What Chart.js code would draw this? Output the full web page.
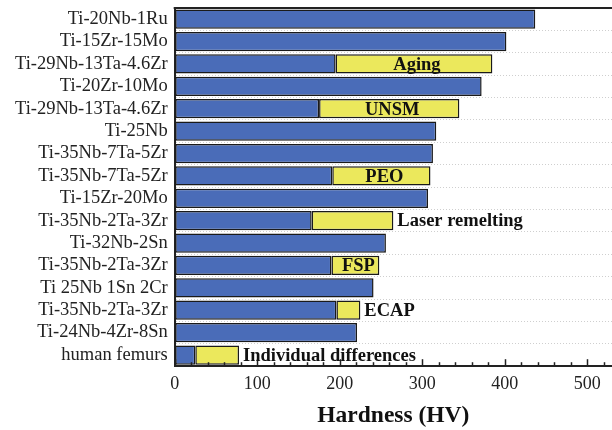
<!DOCTYPE html>
<html>
<head>
<meta charset="utf-8">
<script src="https://cdn.jsdelivr.net/npm/chart.js@4.4.1/dist/chart.umd.min.js"></script>
<style>
  html, body { margin: 0; padding: 0; background: #fff; }
  #wrap { width: 612px; height: 430px; }
</style>
</head>
<body>
<div id="wrap"><canvas id="myChart" width="612" height="430"></canvas></div>
<script>
// alloys, top to bottom
const alloys = [
    'Ti-20Nb-1Ru', 'Ti-15Zr-15Mo', 'Ti-29Nb-13Ta-4.6Zr', 'Ti-20Zr-10Mo',
    'Ti-29Nb-13Ta-4.6Zr', 'Ti-25Nb', 'Ti-35Nb-7Ta-5Zr', 'Ti-35Nb-7Ta-5Zr',
    'Ti-15Zr-20Mo', 'Ti-35Nb-2Ta-3Zr', 'Ti-32Nb-2Sn', 'Ti-35Nb-2Ta-3Zr',
    'Ti 25Nb 1Sn 2Cr', 'Ti-35Nb-2Ta-3Zr', 'Ti-24Nb-4Zr-8Sn', 'human femurs'
];
// base hardness (HV)
const baseHardness = [437, 402, 195, 372, 175, 317, 313, 191, 307, 166, 256, 190, 241, 196, 221, 25];
// hardness after treatment (null = no treatment)
const treatedHardness = [null, null, 385, null, 345, null, null, 310, null, 265, null, 248, null, 225, null, 78];
const treatments = ['', '', 'Aging', '', 'UNSM', '', '', 'PEO', '', 'Laser remelting', '', 'FSP', '', 'ECAP', '', 'Individual differences'];
const xTicks = [0, 100, 200, 300, 400, 500];

const serif = '"Liberation Serif", "Times New Roman", serif';

const frame = {
    id: 'frame',
    afterDraw(chart) {
        const ctx = chart.ctx;
        const a = chart.chartArea;
        const x = chart.scales.x;
        ctx.save();
        ctx.strokeStyle = '#222';
        ctx.lineWidth = 2;
        ctx.beginPath();
        ctx.moveTo(a.left - 1, a.top);
        ctx.lineTo(a.right, a.top);
        ctx.stroke();
        // inward ticks on x axis
        ctx.lineWidth = 1.5;
        for (let v = 0; v <= x.max; v += 20) {
            const px = Math.round(x.getPixelForValue(v)) + 0.5;
            const len = v % 100 === 0 ? 7 : 4;
            ctx.beginPath();
            ctx.moveTo(px, a.bottom);
            ctx.lineTo(px, a.bottom - len);
            ctx.stroke();
        }
        // treatment labels
        const y = chart.scales.y;
        ctx.font = 'bold 18.5px ' + serif;
        ctx.fillStyle = '#111';
        ctx.textBaseline = 'middle';
        treatments.forEach((t, i) => {
            if (!t) return;
            const x0 = x.getPixelForValue(baseHardness[i]);
            const x1 = x.getPixelForValue(treatedHardness[i]);
            const w = ctx.measureText(t).width;
            const py = y.getPixelForValue(i) + 1;
            if (w + 10 < x1 - x0) {
                ctx.textAlign = 'center';
                ctx.fillText(t, (x0 + x1) / 2 + 3, py);
            } else {
                ctx.textAlign = 'left';
                ctx.fillText(t, x1 + 4, py);
            }
        });
        ctx.restore();
    }
};

new Chart(document.getElementById('myChart').getContext('2d'), {
    type: 'bar',
    data: {
        labels: alloys,
        datasets: [
            {
                label: 'Hardness',
                data: baseHardness,
                backgroundColor: '#4a6cb8',
                borderColor: '#1a1a1a',
                borderWidth: 1.5,
                borderSkipped: false,
                order: 2
            },
            {
                label: 'Treated',
                data: treatedHardness.map((v, i) => v === null ? null : [baseHardness[i], v]),
                backgroundColor: '#ebe85c',
                borderColor: '#1a1a1a',
                borderWidth: 1.5,
                borderSkipped: false,
                order: 1
            }
        ]
    },
    options: {
        indexAxis: 'y',
        responsive: false,
        animation: false,
        grouped: false,
        barPercentage: 0.86,
        categoryPercentage: 1,
        layout: { padding: { top: 8, right: 0, bottom: 0, left: 8 } },
        plugins: { legend: { display: false }, tooltip: { enabled: false } },
        scales: {
            x: {
                min: 0,
                max: 530,
                afterBuildTicks: (s) => { s.ticks = xTicks.map(v => ({ value: v })); },
                ticks: { font: { family: serif, size: 18 }, color: '#222', padding: 7, maxRotation: 0 },
                grid: { display: true, drawOnChartArea: false, drawTicks: false },
                border: { color: '#222', width: 2 },
                title: {
                    display: true,
                    text: 'Hardness (HV)',
                    font: { family: serif, size: 23.5, weight: 'bold' },
                    color: '#111',
                    padding: { top: 0, bottom: 0 }
                }
            },
            y: {
                afterFit: (s) => { s.paddingTop = 0; s.paddingBottom = 0; },
                ticks: { font: { family: serif, size: 18.5 }, color: '#222', padding: 7, autoSkip: false },
                grid: { color: '#cfcfcf', lineWidth: 1, drawTicks: false, offset: true },
                border: { color: '#222', width: 2, dash: [1, 2] }
            }
        }
    },
    plugins: [frame]
});
</script>
</body>
</html>
